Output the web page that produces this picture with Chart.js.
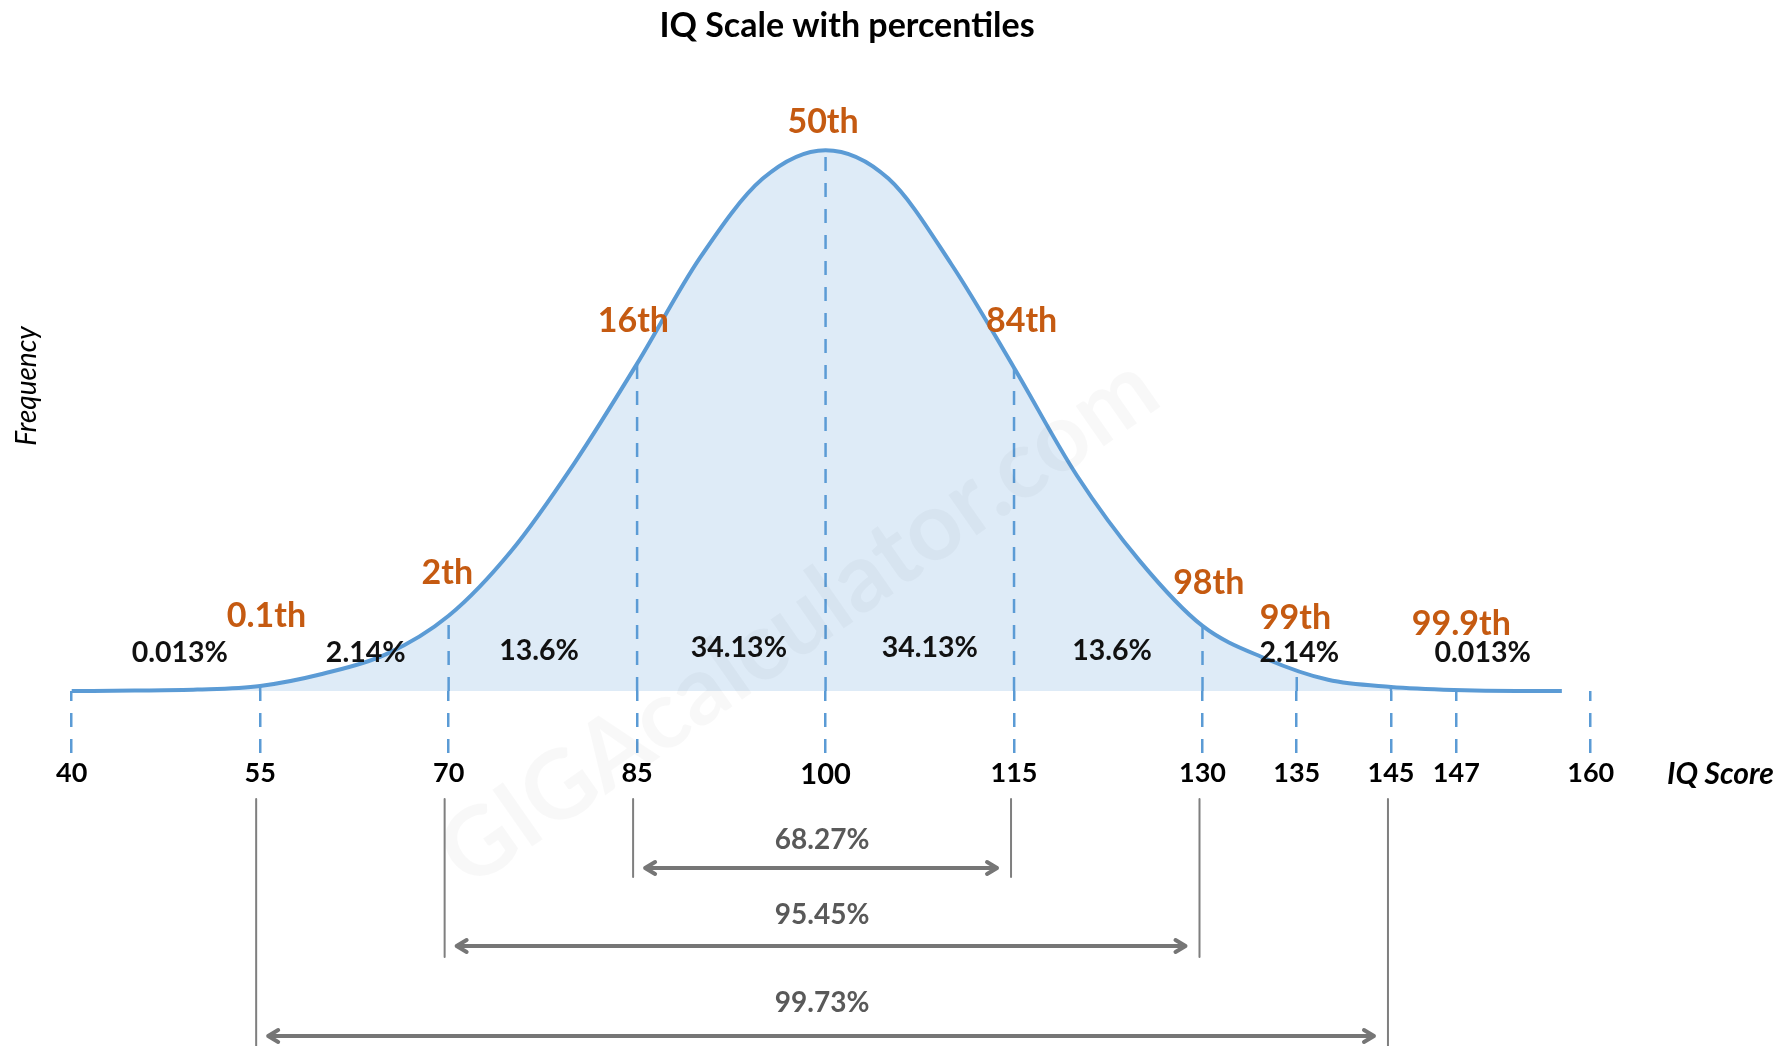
<!DOCTYPE html>
<html>
<head>
<meta charset="utf-8">
<title>IQ Scale with percentiles</title>
<script src="https://cdn.jsdelivr.net/npm/chart.js@4.4.0/dist/chart.umd.min.js"></script>
<style>
  html, body { margin: 0; padding: 0; background: #fff; }
  #wrap { width: 1789px; height: 1046px; }
</style>
</head>
<body>
<div id="wrap"><canvas id="myChart"></canvas></div>
<script>
// IQ score samples and the relative frequency (per mille per IQ point)
const iqPoints = [40, 45, 50, 55, 60, 65, 70, 75, 80, 85, 90, 95, 100,
                  105, 110, 115, 120, 125, 130, 135, 140, 145, 150, 155, 158.6];
const frequency = [0, 0.02, 0.07, 0.25, 0.85, 1.8, 3.7, 6.9, 11.2, 16.1, 21.3, 25.2, 26.6,
                   25.2, 21.0, 15.9, 10.6, 6.4, 3.2, 1.6, 0.55, 0.2, 0.05, 0, 0];

// x axis labels and where the picture puts them on the score line
const tickLabels = ['40', '55', '70', '85', '100', '115', '130', '135', '145', '147', '160'];
const tickSpots = [40, 55, 70, 85, 100, 115, 130, 137.5, 145, 150.2, 160.9];

// orange percentile marks
const percentiles = ['0.1th', '2th', '16th', '50th', '84th', '98th', '99th', '99.9th'];
const percentileAt = [55.5, 69.9, 84.7, 99.8, 115.6, 130.5, 137.4, 150.6];
const percentileHeight = [3.7, 5.8, 18.2, 28.0, 18.2, 5.3, 3.6, 3.3];

// share of people in each band
const bandShares = ['0.013%', '2.14%', '13.6%', '34.13%', '34.13%', '13.6%', '2.14%', '0.013%'];
const bandAt = [48.6, 63.4, 77.2, 93.1, 108.3, 122.8, 137.7, 152.3];
const bandHeight = [1.9, 1.9, 2.0, 2.1, 2.1, 2.0, 1.9, 1.9];

// ranges shown with arrows under the axis
const rangeShares = ['68.27%', '95.45%', '99.73%'];
const rangeFrom = [85, 70, 55];
const rangeTo = [115, 130, 145];

const FONT = 'Lato, "Open Sans", sans-serif';
const BLUE = '#5B9BD5';
const ORANGE = '#C55A11';

// rows for the range brackets, in px below the baseline: [label, arrow, line end]
const bracketRows = [[149, 177, 186], [224, 255, 266], [312, 345, 400]];

function drawArrow(ctx, x1, x2, y) {
  ctx.beginPath();
  ctx.moveTo(x1, y);
  ctx.lineTo(x2, y);
  ctx.moveTo(x1 + 10, y - 6);
  ctx.lineTo(x1, y);
  ctx.lineTo(x1 + 10, y + 6);
  ctx.moveTo(x2 - 10, y - 6);
  ctx.lineTo(x2, y);
  ctx.lineTo(x2 - 10, y + 6);
  ctx.stroke();
}

const iqPlugin = {
  id: 'iqDecor',
  beforeDatasetDraw(chart, args) {
    if (args.index !== 0) return;
    // dashed score lines, only inside the area under the curve
    const ctx = chart.ctx;
    const area = chart.chartArea;
    const xs = chart.scales.x;
    const line = chart.getDatasetMeta(0).dataset;
    const pts = chart.getDatasetMeta(0).data;
    ctx.save();
    ctx.beginPath();
    line.path(ctx);
    ctx.lineTo(pts[pts.length - 1].x, area.bottom);
    ctx.lineTo(pts[0].x, area.bottom);
    ctx.closePath();
    ctx.clip();
    ctx.strokeStyle = BLUE;
    ctx.lineWidth = 2.5;
    ctx.setLineDash([14, 12]);
    tickSpots.forEach(v => {
      const x = xs.getPixelForValue(v);
      ctx.beginPath();
      ctx.moveTo(x, area.bottom);
      ctx.lineTo(x, area.top);
      ctx.stroke();
    });
    ctx.restore();
  },
  afterDatasetsDraw(chart) {
    const ctx = chart.ctx;
    // faint watermark
    ctx.save();
    ctx.translate(799, 622);
    ctx.rotate(-35 * Math.PI / 180);
    ctx.font = 'bold 96px ' + FONT;
    ctx.fillStyle = 'rgba(0, 0, 0, 0.028)';
    ctx.textAlign = 'center';
    ctx.textBaseline = 'middle';
    ctx.fillText('GIGAcalculator.com', 0, 0);
    ctx.restore();
  },
  afterDraw(chart) {
    const ctx = chart.ctx;
    const xs = chart.scales.x;
    const ys = chart.scales.y;
    const base = chart.chartArea.bottom;
    ctx.save();
    ctx.textAlign = 'center';
    ctx.textBaseline = 'middle';

    // chart title
    ctx.font = 'bold 34px ' + FONT;
    ctx.fillStyle = '#000';
    ctx.fillText('IQ Scale with percentiles', 847, 26);

    ctx.font = 'bold 34px ' + FONT;
    ctx.fillStyle = ORANGE;
    percentiles.forEach((t, i) => {
      ctx.fillText(t, xs.getPixelForValue(percentileAt[i]), ys.getPixelForValue(percentileHeight[i]));
    });

    ctx.font = 'bold 28.5px ' + FONT;
    ctx.fillStyle = '#111';
    bandShares.forEach((t, i) => {
      ctx.fillText(t, xs.getPixelForValue(bandAt[i]), ys.getPixelForValue(bandHeight[i]));
    });

    // axis name at the right end
    ctx.font = 'italic bold 30px ' + FONT;
    ctx.fillStyle = '#000';
    ctx.textAlign = 'left';
    ctx.fillText('IQ Score', chart.chartArea.right + 75, base + 83);

    // range brackets (the grey lines sit a few px left of the dashed ones)
    ctx.textAlign = 'center';
    ctx.lineCap = 'round';
    ctx.lineJoin = 'round';
    rangeShares.forEach((t, i) => {
      const x1 = xs.getPixelForValue(rangeFrom[i]) - 4;
      const x2 = xs.getPixelForValue(rangeTo[i]) - 3;
      const row = bracketRows[i];
      ctx.strokeStyle = '#7F7F7F';
      ctx.lineWidth = 2;
      ctx.beginPath();
      ctx.moveTo(x1, base + 108);
      ctx.lineTo(x1, base + row[2]);
      ctx.moveTo(x2, base + 108);
      ctx.lineTo(x2, base + row[2]);
      ctx.stroke();
      ctx.strokeStyle = '#767676';
      ctx.lineWidth = 4;
      drawArrow(ctx, x1 + 12, x2 - 14, base + row[1]);
      ctx.font = 'bold 28px ' + FONT;
      ctx.fillStyle = '#595959';
      ctx.fillText(t, (x1 + x2) / 2, base + row[0]);
    });
    ctx.restore();
  }
};

const config = document.getElementById('myChart');

const iqChart = new Chart(config, {
  type: 'line',
  data: {
    datasets: [{
      label: 'Frequency',
      data: iqPoints.map((x, i) => ({x: x, y: frequency[i]})),
      borderColor: BLUE,
      borderWidth: 4,
      backgroundColor: '#DEEBF7',
      fill: 'origin',
      pointRadius: 0,
      cubicInterpolationMode: 'monotone',
      clip: false
    }]
  },
  options: {
    responsive: true,
    maintainAspectRatio: false,
    animation: false,
    events: [],
    layout: {
      padding: {left: 0, right: 197, top: 81, bottom: 0}
    },
    plugins: {
      legend: {
        display: false
      },
      tooltip: {
        enabled: false
      },
      title: {
        display: false
      }
    },
    scales: {
      x: {
        type: 'linear',
        min: 40,
        max: 161,
        afterBuildTicks: (axis) => {
          axis.ticks = tickSpots.map(v => ({value: v}));
        },
        afterFit: (axis) => {
          axis.height = 355;
        },
        border: {display: false},
        grid: {
          display: true,
          drawOnChartArea: false,
          drawTicks: true,
          tickLength: 62,
          color: BLUE,
          lineWidth: 2.5,
          tickBorderDash: [14, 12],
          tickBorderDashOffset: 4
        },
        ticks: {
          autoSkip: false,
          maxRotation: 0,
          padding: 4,
          color: '#000',
          font: (c) => ({
            family: FONT,
            weight: 'bold',
            size: (c.tick && c.tick.value === 100) ? 29 : 27
          }),
          callback: (value, index) => tickLabels[index]
        }
      },
      y: {
        min: 0,
        max: 30,
        afterFit: (axis) => {
          axis.width = 71.7;
        },
        border: {display: false},
        grid: {display: false, drawTicks: false},
        ticks: {display: false},
        title: {
          display: true,
          text: 'Frequency',
          color: '#000',
          font: {family: FONT, size: 28, style: 'italic'},
          padding: {top: 10, bottom: 0}
        }
      }
    }
  },
  plugins: [iqPlugin]
});
</script>
</body>
</html>
